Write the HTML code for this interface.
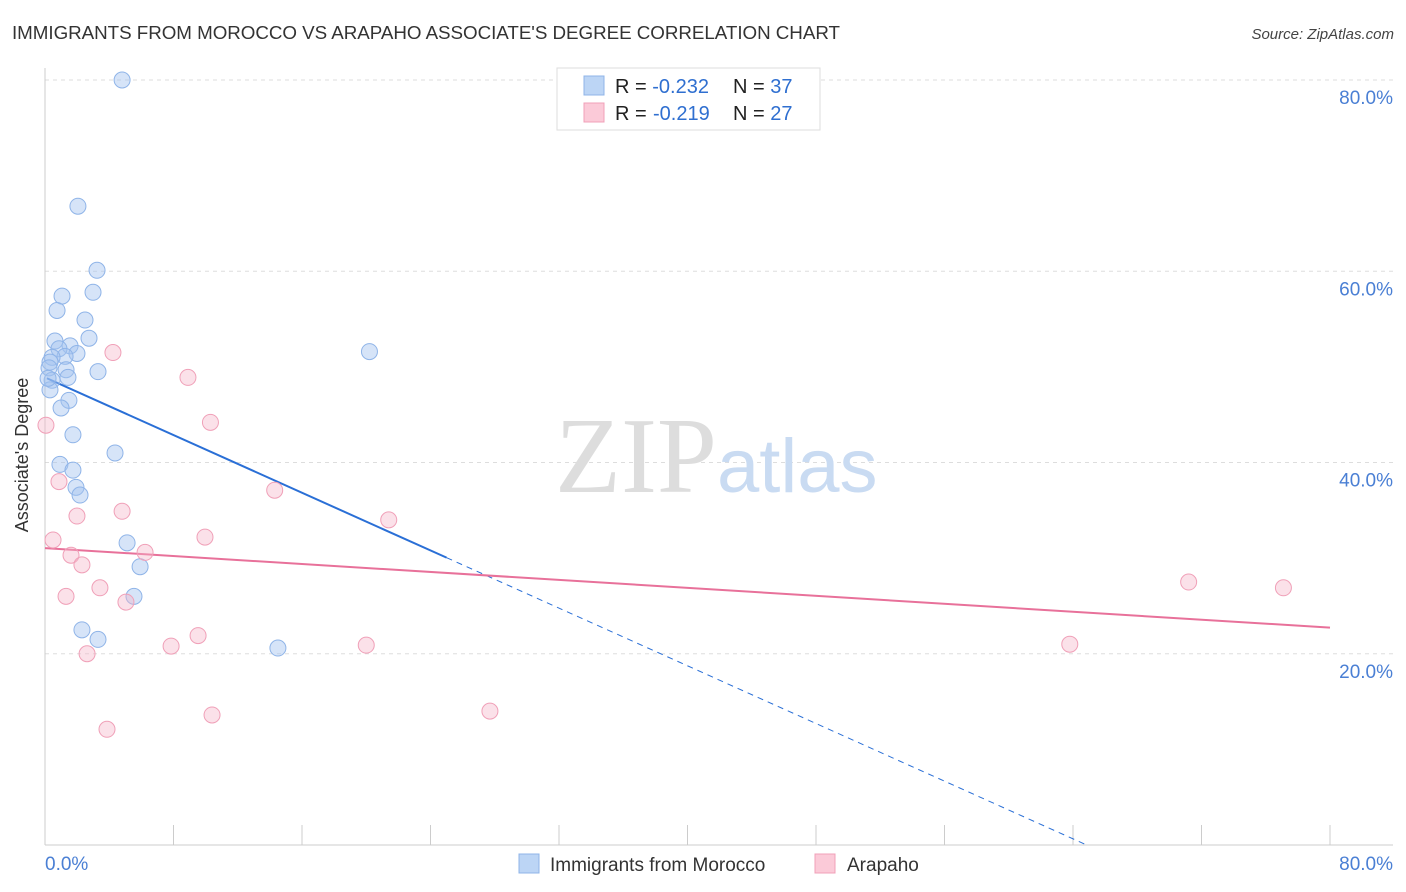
<!DOCTYPE html>
<html><head><meta charset="utf-8"><style>
body{margin:0;background:#fff;font-family:"Liberation Sans",sans-serif;}
svg{display:block}
</style></head><body>
<svg id="chart" width="1406" height="892" xmlns="http://www.w3.org/2000/svg">
<text x="12" y="39" font-size="18.8" fill="#333" textLength="828">IMMIGRANTS FROM MOROCCO VS ARAPAHO ASSOCIATE'S DEGREE CORRELATION CHART</text>
<text x="1394" y="39" font-size="15" fill="#444" text-anchor="end" font-style="italic">Source: ZipAtlas.com</text>
<g id="grid"></g>
<text x="555" y="492" font-size="108" fill="#ddd" font-family="Liberation Serif,serif">ZIP</text>
<text x="717" y="492" font-size="76" fill="#c9dbf2">atlas</text>
<g id="axes"></g>
<g id="lines"></g>
<g id="points"></g>
<text x="28" y="455" font-size="18" fill="#333" text-anchor="middle" transform="rotate(-90 28 455)">Associate's Degree</text>
<g>
<rect x="557" y="68" width="263" height="62" fill="#fff" stroke="#ddd"/>
<rect x="584" y="76" width="20" height="19" fill="#bcd5f5" stroke="#8fb4e8"/>
<rect x="584" y="103" width="20" height="19" fill="#fbcad8" stroke="#f0a0b8"/>
<text x="615" y="93" font-size="20" fill="#222">R = <tspan fill="#2f6fd0">-0.232</tspan><tspan x="733">N = </tspan><tspan fill="#2f6fd0">37</tspan></text>
<text x="615" y="120" font-size="20" fill="#222">R = <tspan x="653" fill="#2f6fd0">-0.219</tspan><tspan x="733">N = </tspan><tspan fill="#2f6fd0">27</tspan></text>
</g>
<g>
<rect x="519" y="854" width="20" height="19" fill="#bcd5f5" stroke="#8fb4e8"/>
<text x="550" y="871" font-size="19" fill="#333">Immigrants from Morocco</text>
<rect x="815" y="854" width="20" height="19" fill="#fbcad8" stroke="#f0a0b8"/>
<text x="847" y="871" font-size="19" fill="#333">Arapaho</text>
</g>
</svg>
<script>
const blueX=[4.8,2.05,3.24,2.99,1.06,0.75,2.49,2.74,0.62,1.56,0.87,1.99,1.25,0.44,0.31,0.25,1.31,3.30,1.43,0.44,0.31,1.49,1.0,1.74,4.36,0.93,1.74,1.93,2.18,5.11,5.92,5.54,2.30,3.30,14.5,20.2,0.19];
const blueY=[80.0,66.8,60.1,57.8,57.4,55.9,54.9,53.0,52.7,52.2,51.9,51.4,51.1,51.0,50.5,49.9,49.7,49.5,48.9,48.6,47.6,46.5,45.7,42.9,41.0,39.8,39.2,37.4,36.6,31.6,29.1,26.0,22.5,21.5,20.6,51.6,48.8];
const pinkX=[0.06,4.23,8.9,10.3,0.87,1.99,4.8,14.3,0.5,9.96,1.62,6.23,2.3,21.4,1.31,3.42,5.04,2.62,7.85,9.53,20.0,3.86,10.4,27.7,63.8,71.2,77.1];
const pinkY=[43.9,51.5,48.9,44.2,38.0,34.4,34.9,37.1,31.9,32.2,30.3,30.6,29.3,34.0,26.0,26.9,25.4,20.0,20.8,21.9,20.9,12.1,13.6,14.0,21.0,27.5,26.9];
const blueTrend=[48.9,-0.754];
const pinkTrend=[31.05,-0.104];
const yTicks=[20,40,60,80];
const xTickLabels=["0.0%","80.0%"];
const NS="http://www.w3.org/2000/svg";
const X=v=>45+v*(1285/80), Y=v=>845-v*(765/80);
function mk(tag,attrs,parent){const e=document.createElementNS(NS,tag);for(const k in attrs)e.setAttribute(k,attrs[k]);parent.appendChild(e);return e;}
const grid=document.getElementById('grid'),axes=document.getElementById('axes'),lines=document.getElementById('lines'),pts=document.getElementById('points');
yTicks.forEach(t=>{
 const l=mk('line',{x1:45,x2:1393,y1:Y(t),y2:Y(t),stroke:'#ddd','stroke-dasharray':'4,4'},grid);
 
 
 const tx=mk('text',{x:1393,y:Y(t)+24,'font-size':19,fill:'#4a7fd4','text-anchor':'end'},axes);
 tx.textContent=t.toFixed(1)+'%';
 
 
});
mk('line',{x1:45,x2:45,y1:68,y2:845,stroke:'#ccc'},axes);
mk('line',{x1:45,x2:1393,y1:845,y2:845,stroke:'#ccc'},axes);
for(let i=0;i<=10;i++){const t=mk('line',{x1:X(i*8),x2:X(i*8),y1:825,y2:845,stroke:'#ccc'},axes);
 
 }
const xl0=mk('text',{x:45,y:870,'font-size':19,fill:'#4a7fd4'},axes);xl0.textContent=xTickLabels[0];


const xl1=mk('text',{x:1393,y:870,'font-size':19,fill:'#4a7fd4','text-anchor':'end'},axes);xl1.textContent=xTickLabels[1];


blueX.forEach((x,i)=>{const c=mk('circle',{cx:X(x),cy:Y(blueY[i]),r:8,fill:'rgba(164,196,240,0.45)',stroke:'#8fb4e8','stroke-width':1},pts);
 
 });
pinkX.forEach((x,i)=>{const c=mk('circle',{cx:X(x),cy:Y(pinkY[i]),r:8,fill:'rgba(245,180,200,0.4)',stroke:'#f0a0b8','stroke-width':1},pts);
 
 });
const bY=x=>blueTrend[0]+blueTrend[1]*x, pY=x=>pinkTrend[0]+pinkTrend[1]*x;
const bx0=0.12,bx1=25,bx2=-blueTrend[0]/blueTrend[1];
const l1=mk('line',{x1:X(bx0),y1:Y(bY(bx0)),x2:X(bx1),y2:Y(bY(bx1)),stroke:'#2a6fd6','stroke-width':2},lines);


const l2=mk('line',{x1:X(bx1),y1:Y(bY(bx1)),x2:X(bx2),y2:Y(bY(bx2)),stroke:'#2a6fd6','stroke-width':1,'stroke-dasharray':'6,5'},lines);


const l3=mk('line',{x1:X(0),y1:Y(pY(0)),x2:X(80),y2:Y(pY(80)),stroke:'#e8719a','stroke-width':2},lines);


</script>
</body></html>
